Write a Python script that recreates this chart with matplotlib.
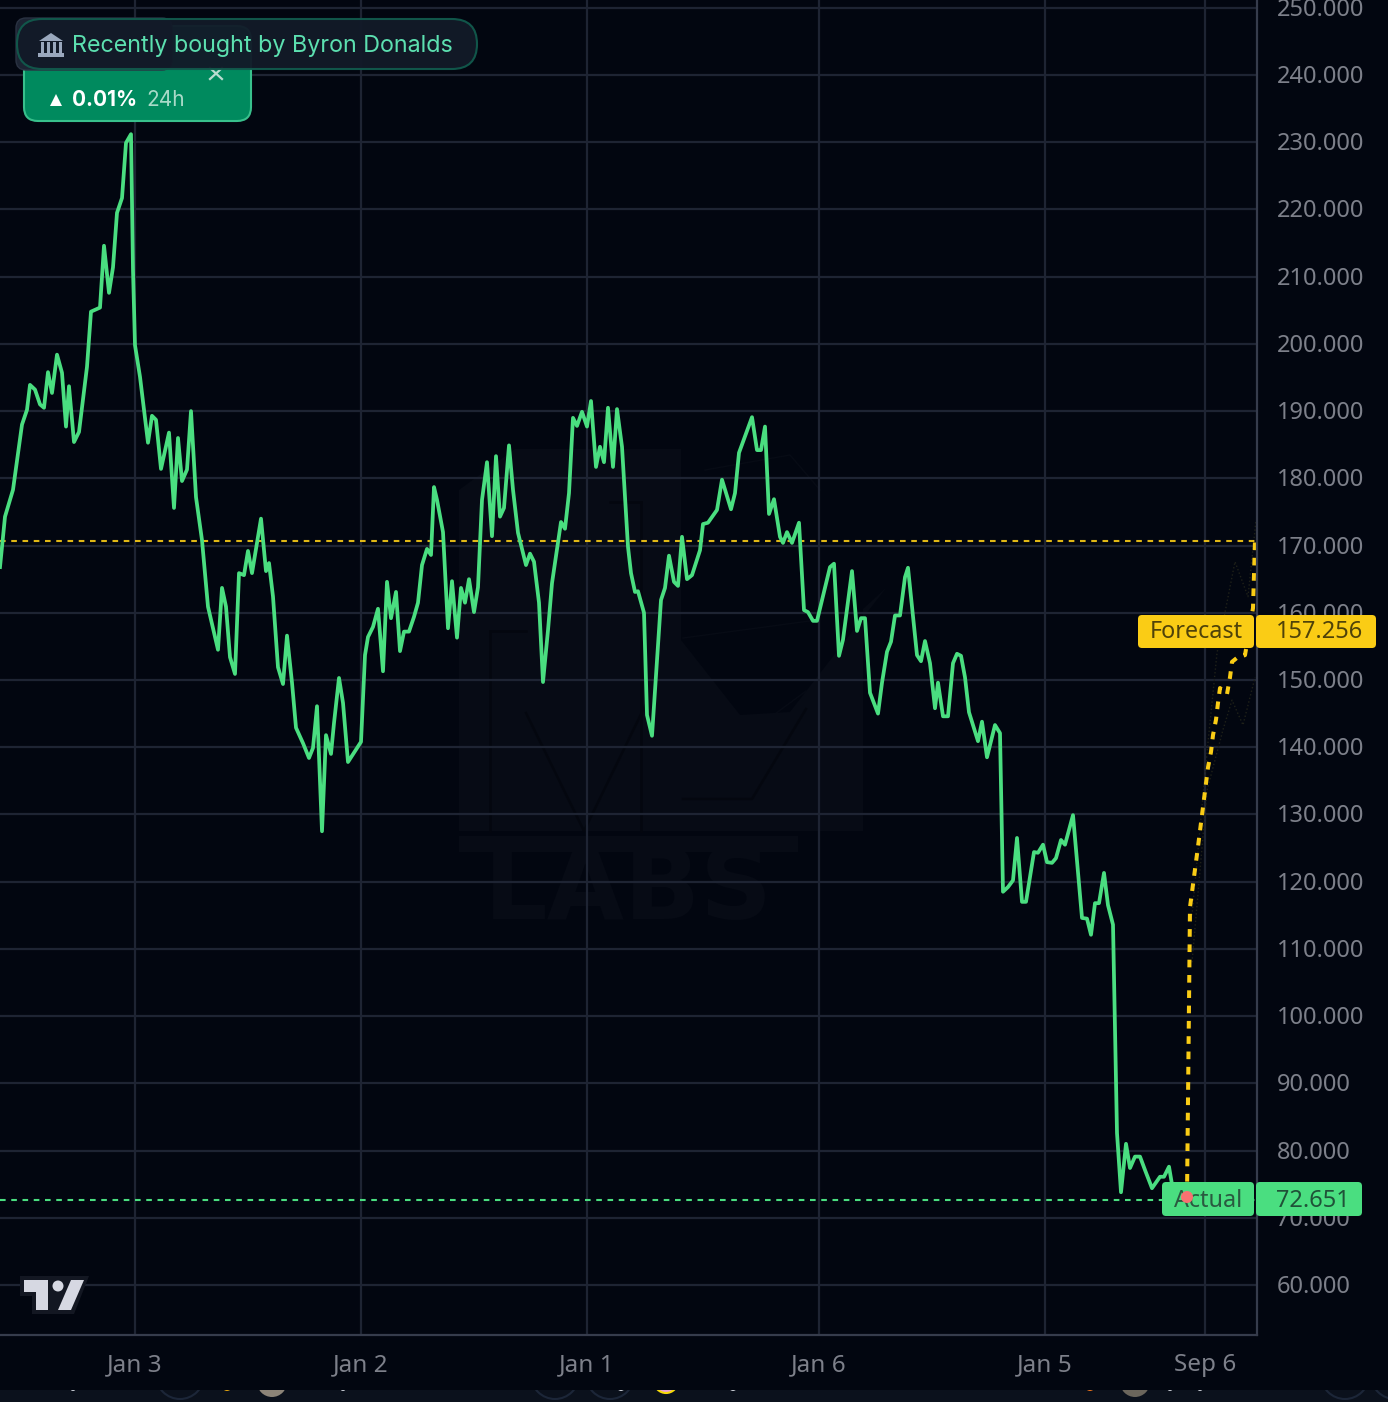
import matplotlib
matplotlib.use("Agg")
import matplotlib.pyplot as plt
from matplotlib.patches import FancyBboxPatch, Polygon, Circle, Rectangle
from matplotlib.transforms import ScaledTranslation

# price history, x is bar position along the time axis
bars = [0, 5, 13, 22, 27, 30, 35, 40, 44, 48, 52, 57, 62, 66, 69, 74, 79, 83, 87, 91, 100, 104, 109, 113, 117, 122,
        126, 131, 133, 135, 140, 148, 152, 156, 161, 169, 174, 178, 182, 187, 191, 196, 202, 208, 218, 222, 226, 230,
        235, 239, 244, 248, 252, 261, 266, 269, 273, 278, 283, 287, 292, 296, 303, 309, 313, 317, 322, 326, 331, 334,
        339, 343, 348, 361, 365, 368, 373, 378, 383, 387, 391, 396, 400, 404, 409, 414, 418, 422, 427, 431, 434, 437,
        443, 448, 452, 457, 461, 465, 469, 474, 478, 482, 487, 492, 496, 500, 504, 509, 513, 518, 526, 530, 534, 539,
        543, 548, 552, 561, 565, 569, 573, 577, 582, 587, 591, 596, 600, 604, 608, 613, 617, 622, 628, 631, 635, 638,
        644, 647, 652, 661, 665, 669, 674, 678, 682, 687, 692, 700, 703, 708, 717, 722, 731, 735, 739, 752, 757, 761,
        765, 769, 774, 780, 783, 787, 792, 799, 804, 808, 813, 817, 830, 834, 839, 843, 852, 857, 861, 865, 870, 878,
        882, 887, 891, 895, 900, 905, 908, 917, 921, 925, 930, 935, 938, 943, 948, 953, 957, 961, 965, 969, 978, 982,
        987, 995, 1000, 1003, 1008, 1013, 1017, 1022, 1026, 1034, 1038, 1043, 1047, 1052, 1056, 1061, 1065, 1073, 1079,
        1082, 1087, 1091, 1095, 1099, 1104, 1108, 1113, 1117, 1121, 1126, 1130, 1135, 1140, 1145, 1152, 1160, 1164,
        1169, 1173, 1187]
prices = [166.8, 174.3, 178.3, 188.0, 190.2, 193.9, 193.2, 191.0, 190.5, 195.8, 192.7, 198.4, 195.7, 187.7, 193.7, 185.4,
          186.9, 191.7, 196.6, 204.8, 205.4, 214.6, 207.6, 211.4, 219.5, 221.7, 229.9, 231.2, 211.0, 199.8, 195.1, 185.3,
          189.3, 188.7, 181.4, 186.8, 175.6, 186.0, 179.6, 181.3, 190.0, 177.2, 170.8, 160.9, 154.5, 163.7, 160.9, 153.4,
          150.9, 165.9, 165.6, 169.2, 165.9, 174.0, 166.2, 167.4, 162.4, 151.9, 149.4, 156.6, 149.6, 142.9, 140.6, 138.4,
          139.9, 146.1, 127.5, 141.8, 139.0, 143.6, 150.3, 146.6, 137.8, 140.8, 153.7, 156.4, 157.9, 160.6, 151.3, 164.6,
          159.2, 163.1, 154.3, 157.2, 157.2, 159.4, 161.5, 167.1, 169.5, 168.6, 178.7, 176.8, 172.0, 157.7, 164.7, 156.3,
          163.7, 161.5, 165.0, 160.1, 163.8, 176.8, 182.4, 171.4, 183.3, 174.3, 175.6, 184.9, 178.3, 171.9, 167.1, 168.8,
          167.6, 161.5, 149.7, 157.4, 164.4, 173.5, 172.5, 177.8, 189.0, 187.8, 189.9, 187.7, 191.5, 181.7, 184.7, 182.4,
          190.5, 181.7, 190.3, 184.7, 169.8, 165.9, 163.1, 163.2, 160.0, 144.8, 141.7, 161.9, 163.7, 168.5, 164.6, 164.0,
          171.3, 165.0, 165.6, 169.3, 173.2, 173.4, 175.3, 179.8, 175.4, 177.8, 183.8, 189.1, 184.2, 184.2, 187.7, 174.7,
          176.9, 171.3, 170.4, 172.0, 170.4, 173.4, 160.4, 160.1, 158.8, 158.8, 166.8, 167.3, 153.6, 156.0, 166.2, 157.3,
          159.2, 159.2, 148.1, 145.0, 149.6, 154.2, 155.7, 159.6, 159.6, 165.3, 166.7, 153.7, 152.8, 155.8, 152.5, 145.8,
          149.6, 144.6, 144.6, 152.5, 153.9, 153.6, 150.4, 145.2, 140.9, 143.8, 138.5, 143.3, 142.1, 118.5, 119.2, 120.2,
          126.5, 117.0, 117.0, 124.4, 124.3, 125.5, 122.9, 122.8, 123.5, 126.2, 125.5, 129.9, 119.8, 114.6, 114.5, 112.1,
          116.8, 116.8, 121.3, 116.5, 113.6, 82.6, 73.8, 81.0, 77.4, 79.1, 79.1, 77.1, 74.4, 76.1, 76.1, 77.6, 74.1, 73.1]

# forecast path plus the two faint range lines around it
forecast_bars = [1187, 1190, 1198, 1208, 1211, 1213, 1216, 1218, 1220, 1227, 1230, 1232, 1237, 1245, 1253, 1255]
forecast_prices = [73.1, 116.2, 125.2, 137.0, 139.3, 141.8, 144.1, 146.6, 148.8, 147.9, 150.4, 152.7, 153.3, 153.7,
                   160.7, 170.7]
upper_bars = [1192, 1207, 1217, 1235, 1248, 1256]
upper_prices = [115.0, 139.2, 154.0, 167.6, 162.4, 173.8]
lower_bars = [1192, 1207, 1223, 1232, 1243, 1255]
lower_prices = [108.0, 133.6, 142.6, 147.0, 143.3, 150.4]

actual_price = 72.651
target_price = 170.7

price_levels = [60, 70, 80, 90, 100, 110, 120, 130, 140, 150, 160, 170, 180, 190, 200, 210, 220, 230, 240, 250]
date_bars = [135, 361, 587, 819, 1045, 1205]
date_labels = ["Jan 3", "Jan 2", "Jan 1", "Jan 6", "Jan 5", "Sep 6"]

BG = "#020610"
GRID = "#1e2433"
EDGE = "#363c4c"
TICK = "#7d808a"
GREEN = "#4ade80"
YELLOW = "#facc15"
FONT = "Noto Sans"
WM_LIGHT = "#070b15"

W, H = 1388, 1402
fig = plt.figure(figsize=(W / 100, H / 100), dpi=100, facecolor=BG)

# pixel layer under the chart, only holds the watermark
back = fig.add_axes([0, 0, 1, 1], facecolor=BG, zorder=0)
back.set_xlim(0, W)
back.set_ylim(H, 0)
back.axis("off")
back.add_patch(Polygon([(459, 490), (515, 449), (681, 449), (681, 831), (459, 831)], facecolor=WM_LIGHT, edgecolor="none"))
back.add_patch(Polygon([(681, 640), (740, 715), (790, 712), (886, 588), (863, 609), (863, 831), (681, 831)],
                       facecolor=WM_LIGHT, edgecolor="none"))
back.add_patch(Rectangle((459, 836), 339, 16, facecolor=WM_LIGHT, edgecolor="none"))
for xs, ys in [([490, 490], [631, 831]), ([641, 641], [502, 831]), ([526, 584], [713, 831]), ([584, 645], [831, 706]),
               ([683, 752, 806], [799, 799, 709]), ([490, 526], [631, 631]), ([610, 641], [502, 502])]:
    back.plot(xs, ys, color="#04070f", linewidth=1.8)
for xs, ys in [([817, 683], [620, 638]), ([752, 806], [731, 691]), ([705, 790, 820], [470, 455, 490])]:
    back.plot(xs, ys, color="#070b15", linewidth=1)
back.text(628, 892, "LABS", fontsize=72, fontweight="bold", color=WM_LIGHT, ha="center", va="center", family="DejaVu Sans")

ax = fig.add_axes([0, (H - 1335) / H, 1257 / W, 1335 / H], facecolor="none", zorder=1)

ax.set_xlim(0, 1257)
ax.set_ylim(52.56, 251.16)
ax.yaxis.tick_right()
ax.set_yticks(price_levels)
ax.set_yticklabels([f"{p:.3f}" for p in price_levels], fontsize=17, color=TICK, family=FONT)
ax.set_xticks(date_bars)
ax.set_xticklabels(date_labels, fontsize=17.5, color=TICK, family=FONT, fontweight="medium")
ax.tick_params(axis="y", length=0, pad=14)
ax.tick_params(axis="x", length=0, pad=13)
ax.grid(True, color=GRID, linewidth=1.6)
ax.set_axisbelow(True)
for side in ["top", "left"]:
    ax.spines[side].set_visible(False)
for side in ["right", "bottom"]:
    ax.spines[side].set_color(EDGE)
    ax.spines[side].set_linewidth(1.6)

# labels sit about a pixel above their grid lines
nudge = ScaledTranslation(0, 1 / 100, fig.dpi_scale_trans)
for label in ax.get_yticklabels():
    label.set_transform(label.get_transform() + nudge)

ax.plot(upper_bars, upper_prices, color="#1f2119", linewidth=1, linestyle=":")
ax.plot(lower_bars, lower_prices, color="#1f2119", linewidth=1, linestyle=":")
ax.axhline(target_price, color=YELLOW, linewidth=1.5, linestyle=(0, (2.7, 2.7)), alpha=0.9)
ax.axhline(actual_price, color=GREEN, linewidth=1.5, linestyle=(0, (2.7, 2.7)))
ax.plot(bars, prices, color=GREEN, linewidth=2.7, solid_joinstyle="round")
ax.plot(forecast_bars, forecast_prices, color=YELLOW, linewidth=2.9, linestyle=(0, (1.9, 1.9)))

# everything else is chrome on top of the chart, laid out in pixels
top = fig.add_axes([0, 0, 1, 1], facecolor="none", zorder=2)
top.set_xlim(0, W)
top.set_ylim(H, 0)
top.axis("off")


def box(x0, y0, x1, y1, color, edge="none", r=4, lw=0, z=3, alpha=1.0):
    patch = FancyBboxPatch((x0 + r, y0 + r), x1 - x0 - 2 * r, y1 - y0 - 2 * r,
                           boxstyle=f"round,pad={r},rounding_size={r}", facecolor=color,
                           edgecolor=edge, linewidth=lw, zorder=z, alpha=alpha)
    top.add_patch(patch)


# cut-off page content under the chart
strip = Rectangle((0, 1390), W, 12, facecolor="#0b111c", edgecolor="none", zorder=3)
top.add_patch(strip)
for cx, cy, rad, fc, ec in [(180, 1375, 24, "none", "#1c2638"), (272, 1382, 15, "#8c8478", "none"),
                            (227, 1386, 5, "#e0a20f", "none"), (666, 1381, 12, "#e8a0d0", "#f5d90a"),
                            (555, 1375, 24, "none", "#1c2638"), (610, 1375, 24, "none", "#1c2638"),
                            (1135, 1382, 15, "#6b665c", "none"), (1090, 1386, 5, "#e8701a", "none"),
                            (1345, 1375, 24, "none", "#1c2638"), (1395, 1375, 24, "none", "#1c2638"),
                            (621, 1387, 4, "#c8ccd4", "none"), (733, 1387, 4, "#c8ccd4", "none"),
                            (769, 1387, 3, "#c8ccd4", "none"), (73, 1388, 3, "#c8ccd4", "none"),
                            (343, 1388, 3, "#c8ccd4", "none"), (371, 1388, 2, "#c8ccd4", "none"),
                            (1170, 1388, 3, "#c8ccd4", "none"), (1200, 1388, 3, "#c8ccd4", "none")]:
    dot = Circle((cx, cy), rad, facecolor=fc, edgecolor=ec, linewidth=1.5, zorder=3.5)
    top.add_patch(dot)
    dot.set_clip_path(strip)

# price labels
box(1138, 615, 1254, 648, YELLOW, r=4)
box(1256, 615, 1376, 648, YELLOW, r=4)
top.text(1196, 632, "Forecast", fontsize=16.8, color="#4f4209", ha="center", va="center", family=FONT, zorder=4)
top.text(1320, 632, "157.256", fontsize=17, color="#4f4209", ha="center", va="center", family=FONT, zorder=4)
box(1162, 1182, 1254, 1216, GREEN, r=4)
box(1256, 1182, 1362, 1216, GREEN, r=4)
top.text(1208, 1201, "Actual", fontsize=16.8, color="#2a5a40", ha="center", va="center", family=FONT, zorder=4)
top.text(1313, 1201, "72.651", fontsize=17, color="#1f5238", ha="center", va="center", family=FONT, zorder=4)
top.add_patch(Circle((1187, 1197), 6, facecolor="#f87171", edgecolor="none", zorder=5))

# ticker card and the pill over it
box(24, 26, 251, 121, "#008a5e", edge="#38c08c", r=14, lw=1.5, z=3)
top.plot([210, 222], [68, 79], color="#b9dcd0", linewidth=1.6, zorder=4)
top.plot([222, 210], [68, 79], color="#b9dcd0", linewidth=1.6, zorder=4)
top.add_patch(Polygon([(50, 106), (62, 106), (56, 94)], facecolor="white", edgecolor="none", zorder=4))
top.text(72, 100, "0.01%", fontsize=15, fontweight="bold", color="white", va="center", family="Inter", zorder=4)
top.text(146, 100, "24h", fontsize=15, color="#a8dac8", va="center", family="Inter", zorder=4)
box(16, 18, 172, 70, "#1c2433", edge="#2a3242", r=10, lw=1, z=5)
box(17, 19, 477, 69, "#121a28", edge="#11594c", r=25, lw=1.5, z=6, alpha=0.96)
top.text(72, 46, "Recently bought by Byron Donalds", fontsize=16.8, color="#5ce0b0", va="center", family="Inter", zorder=7)

# bank icon
icon = "#9aa8bd"
top.add_patch(Polygon([(39, 41), (51, 33), (63, 41)], facecolor=icon, edgecolor="none", zorder=7))
for col_x in [41, 47, 53, 59]:
    top.add_patch(Rectangle((col_x, 42), 3.2, 11, facecolor=icon, edgecolor="none", zorder=7))
top.add_patch(Rectangle((38, 53), 26, 4, facecolor=icon, edgecolor="none", zorder=7))

# TradingView mark
top.add_patch(Polygon([(20, 1276), (89, 1276), (74, 1314), (32, 1314), (32, 1296), (20, 1296)],
                      facecolor="#131722", edgecolor="none", zorder=3))
top.add_patch(Polygon([(24, 1280), (48, 1280), (48, 1310), (36, 1310), (36, 1292), (24, 1292)],
                      facecolor="#d6d8e2", edgecolor="none", zorder=4))
top.add_patch(Circle((58, 1286), 5.5, facecolor="#d6d8e2", edgecolor="none", zorder=4))
top.add_patch(Polygon([(71, 1280), (84, 1280), (71, 1310), (58, 1310)], facecolor="#d6d8e2", edgecolor="none", zorder=4))

fig.savefig("out.png", dpi=100, facecolor=BG)
